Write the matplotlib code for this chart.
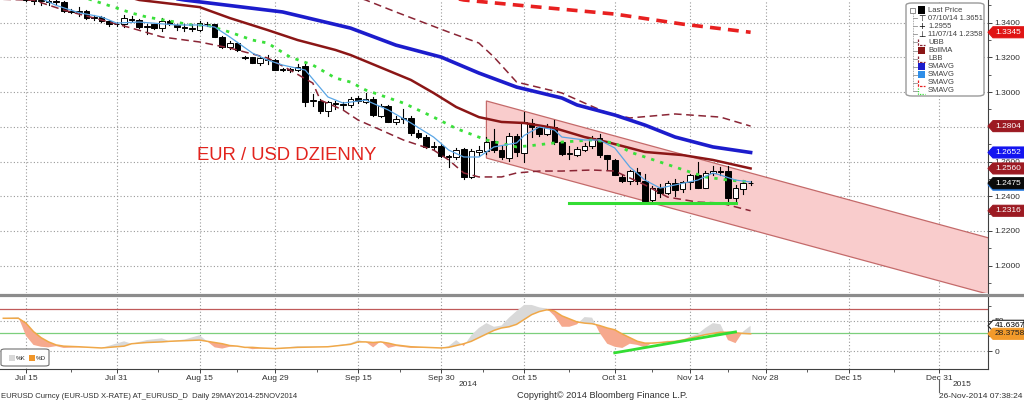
import numpy as np
import matplotlib.pyplot as plt
from matplotlib.patches import Rectangle, Polygon, FancyBboxPatch
from matplotlib.lines import Line2D
from matplotlib.transforms import IdentityTransform

plt.rcParams['font.family'] = ['Liberation Sans', 'DejaVu Sans']

BASE = '2014-07-15'


def bd(dates):
    return np.busday_count(BASE, np.array(dates, dtype='datetime64[D]'))


# ---- daily candles (EURUSD) ----
c_dates = ['2014-07-10', '2014-07-11', '2014-07-14', '2014-07-15', '2014-07-16', '2014-07-17',
           '2014-07-18', '2014-07-21', '2014-07-22', '2014-07-23', '2014-07-24', '2014-07-25',
           '2014-07-28', '2014-07-29', '2014-07-30', '2014-07-31', '2014-08-01', '2014-08-04',
           '2014-08-05', '2014-08-06', '2014-08-07', '2014-08-08', '2014-08-11', '2014-08-12',
           '2014-08-13', '2014-08-14', '2014-08-15', '2014-08-18', '2014-08-19', '2014-08-20',
           '2014-08-21', '2014-08-22', '2014-08-25', '2014-08-26', '2014-08-27', '2014-08-28',
           '2014-08-29', '2014-09-01', '2014-09-02', '2014-09-03', '2014-09-04', '2014-09-05',
           '2014-09-08', '2014-09-09', '2014-09-10', '2014-09-11', '2014-09-12', '2014-09-15',
           '2014-09-16', '2014-09-17', '2014-09-18', '2014-09-19', '2014-09-22', '2014-09-23',
           '2014-09-24', '2014-09-25', '2014-09-26', '2014-09-29', '2014-09-30', '2014-10-01',
           '2014-10-02', '2014-10-03', '2014-10-06', '2014-10-07', '2014-10-08', '2014-10-09',
           '2014-10-10', '2014-10-13', '2014-10-14', '2014-10-15', '2014-10-16', '2014-10-17',
           '2014-10-20', '2014-10-21', '2014-10-22', '2014-10-23', '2014-10-24', '2014-10-27',
           '2014-10-28', '2014-10-29', '2014-10-30', '2014-10-31', '2014-11-03', '2014-11-04',
           '2014-11-05', '2014-11-06', '2014-11-07', '2014-11-10', '2014-11-11', '2014-11-12',
           '2014-11-13', '2014-11-14', '2014-11-17', '2014-11-18', '2014-11-19', '2014-11-20',
           '2014-11-21', '2014-11-24', '2014-11-25', '2014-11-26']
c_open = [1.3610, 1.3610, 1.3605, 1.3610, 1.3530, 1.3525, 1.3525, 1.3522, 1.3520, 1.3465, 1.3463, 1.3465,
          1.3430, 1.3435, 1.3410, 1.3395, 1.3390, 1.3420, 1.3415, 1.3375, 1.3390, 1.3368, 1.3410, 1.3385,
          1.3375, 1.3368, 1.3360, 1.3395, 1.3392, 1.3320, 1.3260, 1.3285, 1.3200, 1.3200, 1.3170, 1.3188,
          1.3185, 1.3130, 1.3128, 1.3125, 1.3150, 1.2950, 1.2950, 1.2890, 1.2935, 1.2930, 1.2925, 1.2965,
          1.2945, 1.2960, 1.2860, 1.2920, 1.2830, 1.2845, 1.2850, 1.2765, 1.2740, 1.2685, 1.2690, 1.2630,
          1.2625, 1.2670, 1.2510, 1.2655, 1.2660, 1.2720, 1.2665, 1.2620, 1.2745, 1.2650, 1.2820, 1.2800,
          1.2760, 1.2800, 1.2710, 1.2645, 1.2640, 1.2665, 1.2690, 1.2735, 1.2635, 1.2610, 1.2510, 1.2485,
          1.2540, 1.2490, 1.2380, 1.2450, 1.2420, 1.2475, 1.2440, 1.2480, 1.2525, 1.2450, 1.2535, 1.2545,
          1.2545, 1.2390, 1.2440, 1.2475]
c_high = [1.3630, 1.3620, 1.3625, 1.3620, 1.3545, 1.3545, 1.3540, 1.3535, 1.3525, 1.3480, 1.3490, 1.3475,
          1.3445, 1.3440, 1.3415, 1.3405, 1.3445, 1.3440, 1.3420, 1.3390, 1.3395, 1.3430, 1.3415, 1.3395,
          1.3390, 1.3390, 1.3410, 1.3405, 1.3395, 1.3325, 1.3295, 1.3290, 1.3210, 1.3205, 1.3200, 1.3215,
          1.3190, 1.3140, 1.3140, 1.3160, 1.3160, 1.2990, 1.2960, 1.2950, 1.2950, 1.2945, 1.2970, 1.2975,
          1.2995, 1.2970, 1.2930, 1.2925, 1.2860, 1.2900, 1.2860, 1.2780, 1.2750, 1.2715, 1.2700, 1.2640,
          1.2675, 1.2680, 1.2670, 1.2690, 1.2740, 1.2790, 1.2690, 1.2765, 1.2760, 1.2887, 1.2845, 1.2810,
          1.2815, 1.2840, 1.2720, 1.2690, 1.2685, 1.2705, 1.2745, 1.2760, 1.2640, 1.2615, 1.2525, 1.2550,
          1.2560, 1.2530, 1.2460, 1.2470, 1.2490, 1.2500, 1.2490, 1.2530, 1.2600, 1.2545, 1.2575, 1.2570,
          1.2575, 1.2465, 1.2495, 1.2490]
c_low = [1.3590, 1.3590, 1.3590, 1.3525, 1.3510, 1.3500, 1.3505, 1.3500, 1.3460, 1.3455, 1.3440, 1.3420,
         1.3415, 1.3405, 1.3380, 1.3380, 1.3375, 1.3410, 1.3370, 1.3335, 1.3365, 1.3355, 1.3385, 1.3360,
         1.3350, 1.3350, 1.3350, 1.3380, 1.3315, 1.3255, 1.3250, 1.3235, 1.3190, 1.3165, 1.3155, 1.3160,
         1.3125, 1.3120, 1.3115, 1.3120, 1.2920, 1.2920, 1.2880, 1.2860, 1.2905, 1.2900, 1.2915, 1.2935,
         1.2935, 1.2860, 1.2855, 1.2825, 1.2815, 1.2820, 1.2755, 1.2735, 1.2680, 1.2670, 1.2625, 1.2570,
         1.2615, 1.2500, 1.2505, 1.2630, 1.2645, 1.2655, 1.2615, 1.2605, 1.2630, 1.2600, 1.2740, 1.2745,
         1.2750, 1.2700, 1.2640, 1.2615, 1.2630, 1.2660, 1.2680, 1.2625, 1.2550, 1.2520, 1.2480, 1.2470,
         1.2470, 1.2370, 1.2358, 1.2395, 1.2410, 1.2400, 1.2425, 1.2440, 1.2445, 1.2445, 1.2520, 1.2525,
         1.2360, 1.2370, 1.2415, 1.2465]
c_close = [1.3610, 1.3605, 1.3610, 1.3530, 1.3525, 1.3525, 1.3522, 1.3520, 1.3465, 1.3463, 1.3465, 1.3430,
           1.3435, 1.3410, 1.3395, 1.3390, 1.3430, 1.3415, 1.3375, 1.3380, 1.3368, 1.3410, 1.3395, 1.3378,
           1.3368, 1.3365, 1.3400, 1.3392, 1.3320, 1.3260, 1.3285, 1.3240, 1.3195, 1.3170, 1.3195, 1.3185,
           1.3130, 1.3128, 1.3130, 1.3145, 1.2945, 1.2955, 1.2890, 1.2945, 1.2930, 1.2925, 1.2960, 1.2950,
           1.2960, 1.2870, 1.2920, 1.2830, 1.2845, 1.2850, 1.2765, 1.2740, 1.2685, 1.2690, 1.2630, 1.2625,
           1.2665, 1.2510, 1.2660, 1.2665, 1.2715, 1.2665, 1.2625, 1.2745, 1.2655, 1.2825, 1.2800, 1.2760,
           1.2800, 1.2710, 1.2645, 1.2650, 1.2670, 1.2690, 1.2735, 1.2635, 1.2615, 1.2525, 1.2485, 1.2545,
           1.2485, 1.2375, 1.2450, 1.2420, 1.2475, 1.2435, 1.2480, 1.2525, 1.2450, 1.2535, 1.2545, 1.2540,
           1.2390, 1.2445, 1.2475, 1.2477]

# ---- studies ----
green_dates = ['2014-07-24', '2014-07-31', '2014-08-04', '2014-08-06', '2014-08-14', '2014-08-18',
               '2014-08-21', '2014-08-26', '2014-08-28', '2014-09-02', '2014-09-05', '2014-09-10',
               '2014-09-12', '2014-09-16', '2014-09-23', '2014-09-29', '2014-10-02', '2014-10-08',
               '2014-10-14', '2014-10-16', '2014-10-22', '2014-10-28', '2014-10-31', '2014-11-04',
               '2014-11-10', '2014-11-14', '2014-11-18', '2014-11-21', '2014-11-26']
green_vals = [1.3555, 1.3485, 1.3456, 1.3433, 1.3387, 1.3385, 1.3346, 1.3300, 1.3283, 1.3202, 1.3156,
              1.3081, 1.3058, 1.3012, 1.2937, 1.2856, 1.2790, 1.2724, 1.2684, 1.2692, 1.2712, 1.2724,
              1.2707, 1.2655, 1.2597, 1.2539, 1.2511, 1.2493, 1.2482]

lblue_dates = ['2014-07-16', '2014-07-21', '2014-07-24', '2014-07-29', '2014-07-31', '2014-08-05',
               '2014-08-12', '2014-08-15', '2014-08-19', '2014-08-21', '2014-08-26', '2014-08-28',
               '2014-09-01', '2014-09-04', '2014-09-09', '2014-09-11', '2014-09-16', '2014-09-19',
               '2014-09-24', '2014-09-29', '2014-10-01', '2014-10-03', '2014-10-07', '2014-10-09',
               '2014-10-14', '2014-10-15', '2014-10-17', '2014-10-21', '2014-10-22', '2014-10-27',
               '2014-10-29', '2014-10-31', '2014-11-04', '2014-11-06', '2014-11-10', '2014-11-12',
               '2014-11-17', '2014-11-19', '2014-11-20', '2014-11-24', '2014-11-26']
lblue_vals = [1.3560, 1.3500, 1.3458, 1.3433, 1.3398, 1.3404, 1.3387, 1.3387, 1.3375, 1.3318, 1.3225,
              1.3185, 1.3156, 1.3127, 1.2972, 1.2937, 1.2954, 1.2897, 1.2822, 1.2741, 1.2666, 1.2626,
              1.2626, 1.2684, 1.2707, 1.2750, 1.2799, 1.2782, 1.2741, 1.2724, 1.2724, 1.2678, 1.2568,
              1.2493, 1.2447, 1.2465, 1.2493, 1.2534, 1.2522, 1.2493, 1.2482]

bollma_dates = ['2014-08-01', '2014-08-05', '2014-08-15', '2014-08-21', '2014-08-28', '2014-09-03',
                '2014-09-10', '2014-09-12', '2014-09-24', '2014-09-29', '2014-10-02', '2014-10-07',
                '2014-10-10', '2014-10-15', '2014-10-21', '2014-10-27', '2014-10-30', '2014-11-06',
                '2014-11-13', '2014-11-19', '2014-11-26']
bollma_vals = [1.3555, 1.3531, 1.3490, 1.3427, 1.3358, 1.3300, 1.3243, 1.3214, 1.3070, 1.2995, 1.2914,
               1.2856, 1.2828, 1.2822, 1.2793, 1.2741, 1.2712, 1.2655, 1.2637, 1.2609, 1.2560]

blue_dates = ['2014-08-11', '2014-08-13', '2014-09-01', '2014-09-12', '2014-09-22', '2014-09-30',
              '2014-10-07', '2014-10-14', '2014-10-22', '2014-10-24', '2014-10-31', '2014-11-06',
              '2014-11-12', '2014-11-19', '2014-11-26']
blue_vals = [1.3545, 1.3531, 1.3462, 1.3369, 1.3271, 1.3202, 1.3110, 1.3029, 1.2966, 1.2926, 1.2868,
             1.2810, 1.2741, 1.2684, 1.2652]

red_dates = ['2014-10-02', '2014-10-03', '2014-10-14', '2014-10-31', '2014-11-13', '2014-11-26']
red_vals = [1.3540, 1.3531, 1.3502, 1.3450, 1.3392, 1.3345]

ubb_dates = ['2014-09-12', '2014-09-16', '2014-09-22', '2014-10-01', '2014-10-07', '2014-10-09',
             '2014-10-14', '2014-10-22', '2014-10-27', '2014-10-30', '2014-11-04', '2014-11-12',
             '2014-11-20', '2014-11-26']
ubb_vals = [1.3560, 1.3531, 1.3462, 1.3346, 1.3283, 1.3202, 1.3058, 1.2995, 1.2937, 1.2880, 1.2851,
            1.2874, 1.2856, 1.2804]

lbb_dates = ['2014-07-10', '2014-07-16', '2014-07-22', '2014-07-29', '2014-08-04', '2014-08-08',
             '2014-08-15', '2014-08-21', '2014-08-28', '2014-09-02', '2014-09-05', '2014-09-08',
             '2014-09-11', '2014-09-15', '2014-09-18', '2014-09-23', '2014-09-29', '2014-10-01',
             '2014-10-03', '2014-10-07', '2014-10-10', '2014-10-14', '2014-10-17', '2014-10-22',
             '2014-10-28', '2014-10-31', '2014-11-06', '2014-11-11', '2014-11-17', '2014-11-20',
             '2014-11-26']
lbb_vals = [1.3535, 1.3530, 1.3473, 1.3416, 1.3369, 1.3318, 1.3289, 1.3254, 1.3197, 1.3127, 1.3052,
            1.2954, 1.2897, 1.2839, 1.2782, 1.2724, 1.2666, 1.2609, 1.2534, 1.2511, 1.2511, 1.2534,
            1.2545, 1.2545, 1.2551, 1.2545, 1.2465, 1.2395, 1.2366, 1.2361, 1.2316]

# drawn annotations: channel, support line
chan_dates = ['2014-10-08', '2015-01-09']
chan_top = [1.2949, 1.2154]
chan_bot = [1.2620, 1.1829]
supp_dates = ['2014-10-23', '2014-11-24']
supp_vals = [1.2361, 1.2361]

# ---- stochastic ----
st_dates = ['2014-07-10', '2014-07-11', '2014-07-14', '2014-07-15', '2014-07-16', '2014-07-17',
            '2014-07-18', '2014-07-21', '2014-07-22', '2014-07-24', '2014-07-29', '2014-08-01',
            '2014-08-04', '2014-08-06', '2014-08-08', '2014-08-11', '2014-08-13', '2014-08-15',
            '2014-08-18', '2014-08-19', '2014-08-20', '2014-08-21', '2014-08-22', '2014-08-25',
            '2014-08-26', '2014-08-27', '2014-08-29', '2014-09-03', '2014-09-09', '2014-09-12',
            '2014-09-15', '2014-09-16', '2014-09-17', '2014-09-18', '2014-09-19', '2014-09-22',
            '2014-09-24', '2014-09-30', '2014-10-01', '2014-10-02', '2014-10-03', '2014-10-06',
            '2014-10-07', '2014-10-08', '2014-10-09', '2014-10-10', '2014-10-13', '2014-10-14',
            '2014-10-15', '2014-10-16', '2014-10-17', '2014-10-20', '2014-10-21', '2014-10-22',
            '2014-10-23', '2014-10-24', '2014-10-27', '2014-10-28', '2014-10-29', '2014-10-30',
            '2014-10-31', '2014-11-03', '2014-11-04', '2014-11-05', '2014-11-06', '2014-11-07',
            '2014-11-10', '2014-11-11', '2014-11-12', '2014-11-13', '2014-11-14', '2014-11-17',
            '2014-11-18', '2014-11-19', '2014-11-20', '2014-11-21', '2014-11-24', '2014-11-25',
            '2014-11-26']
st_d = [54, 54, 54, 46, 32, 22, 15, 10, 8, 7, 5, 8, 12, 14, 15, 16, 17, 18, 16, 14, 12, 9, 8, 6, 6, 5,
        4, 6, 7, 11, 15, 15, 14, 15, 13, 10, 7, 5, 6, 9, 12, 16, 22, 28, 34, 38, 40, 44, 52, 60, 65, 68,
        66, 58, 53, 48, 46, 45, 42, 38, 35, 28, 22, 16, 13, 13, 14, 15, 16, 18, 21, 24, 27, 29, 31, 31,
        30, 29, 28.3758]
st_k = [54, 55, 56, 25, 10, 7, 6, 8, 5, 6, 5, 16, 12, 18, 21, 16, 19, 26, 16, 6, 4, 7, 8, 6, 3, 4,
        4, 8, 7, 13, 18, 15, 6, 16, 5, 8, 5, 5, 8, 18, 8, 26, 38, 46, 40, 42, 55, 66, 76, 76, 72, 70,
        58, 40, 40, 44, 56, 55, 30, 12, 7, 5, 12, 10, 6, 14, 14, 17, 16, 18, 24, 28, 38, 46, 44, 18,
        13, 32, 41.6367]
trend_dates = ['2014-10-31', '2014-11-24']
trend_vals = [-3, 31.5]

tick_dates = ['2014-07-15', '2014-07-31', '2014-08-15', '2014-08-29', '2014-09-15', '2014-09-30',
              '2014-10-15', '2014-10-31', '2014-11-14', '2014-11-28', '2014-12-15', '2014-12-31']
tick_labels = ['Jul 15', 'Jul 31', 'Aug 15', 'Aug 29', 'Sep 15', 'Sep 30', 'Oct 15', 'Oct 31',
               'Nov 14', 'Nov 28', 'Dec 15', 'Dec 31']

W, H = 1024, 401
fig = plt.figure(figsize=(W / 100, H / 100), dpi=100)


def fx(x):
    return x / W


def fy(y):
    return 1 - y / H


ax = fig.add_axes([0, fy(293), fx(988), 293 / H])
ax2 = fig.add_axes([0, fy(369), fx(988), (369 - 297) / H])
XL = (-3.44, 127.45)
TXT = '#303030'
GRID = dict(color='#9a9a9a', linestyle=(0, (1, 2)), linewidth=0.8)

# ---- main panel ----
ax.set_xlim(*XL)
ax.set_ylim(1.1842, 1.3531)
tx = bd(tick_dates)
for a in (ax, ax2):
    a.set_xticks(tx)
    for s in ('left', 'top'):
        a.spines[s].set_visible(False)
    a.spines['right'].set_color('#404040')
    a.yaxis.tick_right()
    a.tick_params(axis='y', which='major', direction='out', length=3, width=0.7,
                  colors='#404040', labelsize=6, pad=1.5, labelcolor=TXT)
    a.tick_params(axis='y', which='minor', direction='out', length=2, width=0.6, colors='#404040')
    a.xaxis.grid(True, **GRID)
    a.yaxis.grid(True, **GRID)
    a.set_axisbelow(True)
ax.spines['bottom'].set_visible(False)
ax.tick_params(axis='x', length=0, labelbottom=False)
ax.set_yticks(np.arange(1.20, 1.3401, 0.02))
ax.set_yticks(np.arange(1.19, 1.3501, 0.01), minor=True)
ax.yaxis.set_major_formatter(plt.FormatStrFormatter('%.4f'))

# channel
cx = bd(chan_dates)
ax.add_patch(Polygon([(cx[0], chan_top[0]), (cx[1], chan_top[1]), (cx[1], chan_bot[1]),
                      (cx[0], chan_bot[0])], closed=True, facecolor='#f9cccc', edgecolor='#c46a6a',
                     linewidth=0.9, zorder=1))

# candles
xc = bd(c_dates)
for x, o, h, l, c in zip(xc, c_open, c_high, c_low, c_close):
    ax.plot([x, x], [l, h], color='black', lw=0.8, zorder=3)
    body = max(abs(c - o), 0.00035)
    fc = 'white' if c >= o else 'black'
    ax.add_patch(Rectangle((x - 0.37, min(o, c)), 0.74, body, facecolor=fc, edgecolor='black',
                           linewidth=0.7, zorder=4))

ax.plot(bd(lbb_dates), lbb_vals, color='#8a2535', lw=1.1, dashes=(5, 3), zorder=5)
ax.plot(bd(ubb_dates), ubb_vals, color='#8a2535', lw=1.1, dashes=(5, 3), zorder=5)
ax.plot(bd(bollma_dates), bollma_vals, color='#8b1616', lw=1.8, zorder=5)
ax.plot(bd(blue_dates), blue_vals, color='#1c1ccc', lw=2.6, zorder=5)
ax.plot(bd(red_dates), red_vals, color='#e82020', lw=2.6, dashes=(3, 2), zorder=5)
ax.plot(bd(green_dates), green_vals, color='#3be03b', lw=2.0, dashes=(1.2, 2.2), zorder=6)
ax.plot(bd(lblue_dates), lblue_vals, color='#5aa6e6', lw=0.9, zorder=6)
ax.plot(bd(supp_dates), supp_vals, color='#33dd33', lw=2.2, zorder=6)

fig.text(fx(197), fy(156), 'EUR / USD DZIENNY', color='#e2231d', fontsize=13.3, ha='left', va='center')

# ---- lower panel ----
ax2.set_xlim(*XL)
ax2.set_ylim(-29.7, 89.1)
ax2.set_yticks([0, 50])
ax2.set_yticks([25, 75], minor=True)
ax2.yaxis.grid(True, which='major', **GRID)
ax2.spines['bottom'].set_color('#404040')
ax2.spines['bottom'].set_linewidth(0.8)
ax2.tick_params(axis='x', which='major', direction='out', length=3, width=0.7, colors='#404040',
                labelsize=6, pad=1.5, labelcolor=TXT)
ax2.tick_params(axis='x', which='minor', direction='out', length=2, width=0.6, colors='#404040')
ax2.set_xticklabels(tick_labels)
ax2.set_xticks((tx[:-1] + tx[1:]) / 2, minor=True)
ax2.axhline(70, color='#c05a5a', lw=0.9, zorder=1)
ax2.axhline(30, color='#7ccf7c', lw=0.9, zorder=1)
xs = bd(st_dates)
k = np.array(st_k, dtype=float)
d = np.array(st_d, dtype=float)
ax2.fill_between(xs, k, d, where=k >= d, interpolate=True, color='#d9d9d9', lw=0, zorder=2)
ax2.fill_between(xs, k, d, where=k < d, interpolate=True, color='#f6a98e', lw=0, zorder=2)
ax2.plot(xs, d, color='#f0a848', lw=1.1, zorder=3)
ax2.plot(bd(trend_dates), trend_vals, color='#33dd33', lw=2.0, zorder=4)

# stochastic legend
fig.add_artist(FancyBboxPatch((fx(1), fy(366)), fx(48), 17 / H, boxstyle='round,pad=0,rounding_size=0.004',
                              transform=fig.transFigure, fc='white', ec='#707070', lw=0.8))
fig.add_artist(Rectangle((fx(9), fy(361)), fx(6), 6 / H, transform=fig.transFigure, fc='#d8d8d8', ec='none'))
fig.text(fx(16), fy(358), '%K', fontsize=4.5, color=TXT, va='center')
fig.add_artist(Rectangle((fx(29), fy(361)), fx(6), 6 / H, transform=fig.transFigure, fc='#f0962a', ec='none'))
fig.text(fx(36), fy(358), '%D', fontsize=4.5, color=TXT, va='center')

# separator bar
fig.add_artist(Line2D([0, 1], [fy(295), fy(295)], transform=fig.transFigure, color='#8c8c8c', lw=2.3))


# ---- right-side value labels ----
def value_label(a, val, text, fc, tc='white', ec=None):
    _, yp = a.transData.transform((0, val))
    pts = [(988, yp), (993, yp + 5.5), (1024, yp + 5.5), (1024, yp - 5.5), (993, yp - 5.5)]
    fig.add_artist(Polygon(pts, closed=True, transform=IdentityTransform(), fc=fc,
                           ec=ec if ec else fc, lw=0.8, zorder=10))
    fig.text(995, yp, text, transform=IdentityTransform(), fontsize=6, color=tc, va='center',
             ha='left', zorder=11)


value_label(ax, 1.3345, '1.3345', '#e01414')
value_label(ax, 1.2804, '1.2804', '#9c1a22')
value_label(ax, 1.2652, '1.2652', '#1414f0')
value_label(ax, 1.2560, '1.2560', '#9c1a22')
value_label(ax, 1.2466, '', '#2f7fe0')
value_label(ax, 1.2475, '1.2475', '#0a0a0a')
value_label(ax, 1.2316, '1.2316', '#9c1a22')
value_label(ax2, 41.6367, '41.6367', 'white', tc='black', ec='#202020')
value_label(ax2, 28.3758, '28.3758', '#f39a2a', tc='#202020')

# ---- main legend box ----
fig.add_artist(FancyBboxPatch((fx(906), fy(96)), fx(78), 93 / H, boxstyle='round,pad=0,rounding_size=0.006',
                              transform=fig.transFigure, fc='white', ec='#9a9a9a', lw=1.0, zorder=8))
rows = [('Last Price', 'sq', 'black'), ('07/10/14 1.3651', 'T', 'black'), ('1.2955', '+', 'black'),
        ('11/07/14 1.2358', 'B', 'black'), ('UBB', 'dash', '#8a2535'), ('BollMA', 'sq', '#8b1616'),
        ('LBB', 'dash', '#8a2535'), ('SMAVG', 'sq', '#1c1ccc'), ('SMAVG', 'sq', '#2f8ee8'),
        ('SMAVG', 'dash', '#e82020'), ('SMAVG', 'dot', '#3be03b')]
fig.add_artist(Line2D([fx(913), fx(913)], [fy(14), fy(91)], transform=fig.transFigure,
                      color='#909090', lw=0.6, linestyle=(0, (1, 1)), zorder=9))
fig.add_artist(Rectangle((fx(910), fy(13)), fx(5), 5 / H, transform=fig.transFigure, fc='white',
                         ec='#606060', lw=0.5, zorder=9))
for i, (lab, kind, col) in enumerate(rows):
    yy = 10 + i * 8.1
    if i > 0:
        fig.add_artist(Line2D([fx(913), fx(917)], [fy(yy), fy(yy)], transform=fig.transFigure,
                              color='#909090', lw=0.6, zorder=9))
    if kind == 'sq':
        fig.add_artist(Rectangle((fx(918), fy(yy + 3.5)), fx(7), 7 / H, transform=fig.transFigure,
                                 fc=col, ec='none', zorder=9))
    elif kind in ('T', '+', 'B'):
        sym = {'T': '\u22a4', '+': '+', 'B': '\u22a5'}[kind]
        fig.text(fx(921.5), fy(yy), sym, fontsize=6, ha='center', va='center', color=col, zorder=9,
                 family='DejaVu Sans')
    else:
        ls = (0, (2, 1)) if kind == 'dash' else (0, (1, 1))
        fig.add_artist(Line2D([fx(918), fx(918), fx(925)], [fy(yy - 3), fy(yy + 3), fy(yy + 3)],
                              transform=fig.transFigure, color=col, lw=0.9, linestyle=ls, zorder=9))
    fig.text(fx(928), fy(yy), lab, fontsize=5.5, color='#404040', va='center', ha='left', zorder=9)

# ---- footer ----
fig.text(fx(468), fy(384), '2014', fontsize=6, color=TXT, ha='center', va='center')
fig.text(fx(962), fy(384), '2015', fontsize=6, color=TXT, ha='center', va='center')
fig.add_artist(Line2D([fx(939), fx(939)], [fy(380), fy(392)], transform=fig.transFigure,
                      color='#606060', lw=0.8))
fig.text(fx(1), fy(396), 'EURUSD Curncy (EUR-USD X-RATE) AT_EURUSD_D  Daily 29MAY2014-25NOV2014',
         fontsize=5.5, color=TXT, ha='left', va='center')
fig.text(fx(602), fy(396), 'Copyright\u00a9 2014 Bloomberg Finance L.P.', fontsize=6.7, color=TXT,
         ha='center', va='center')
fig.text(fx(1022), fy(396), '26-Nov-2014 07:38:24', fontsize=6, color=TXT, ha='right', va='center')

fig.savefig('out.png', dpi=100)
